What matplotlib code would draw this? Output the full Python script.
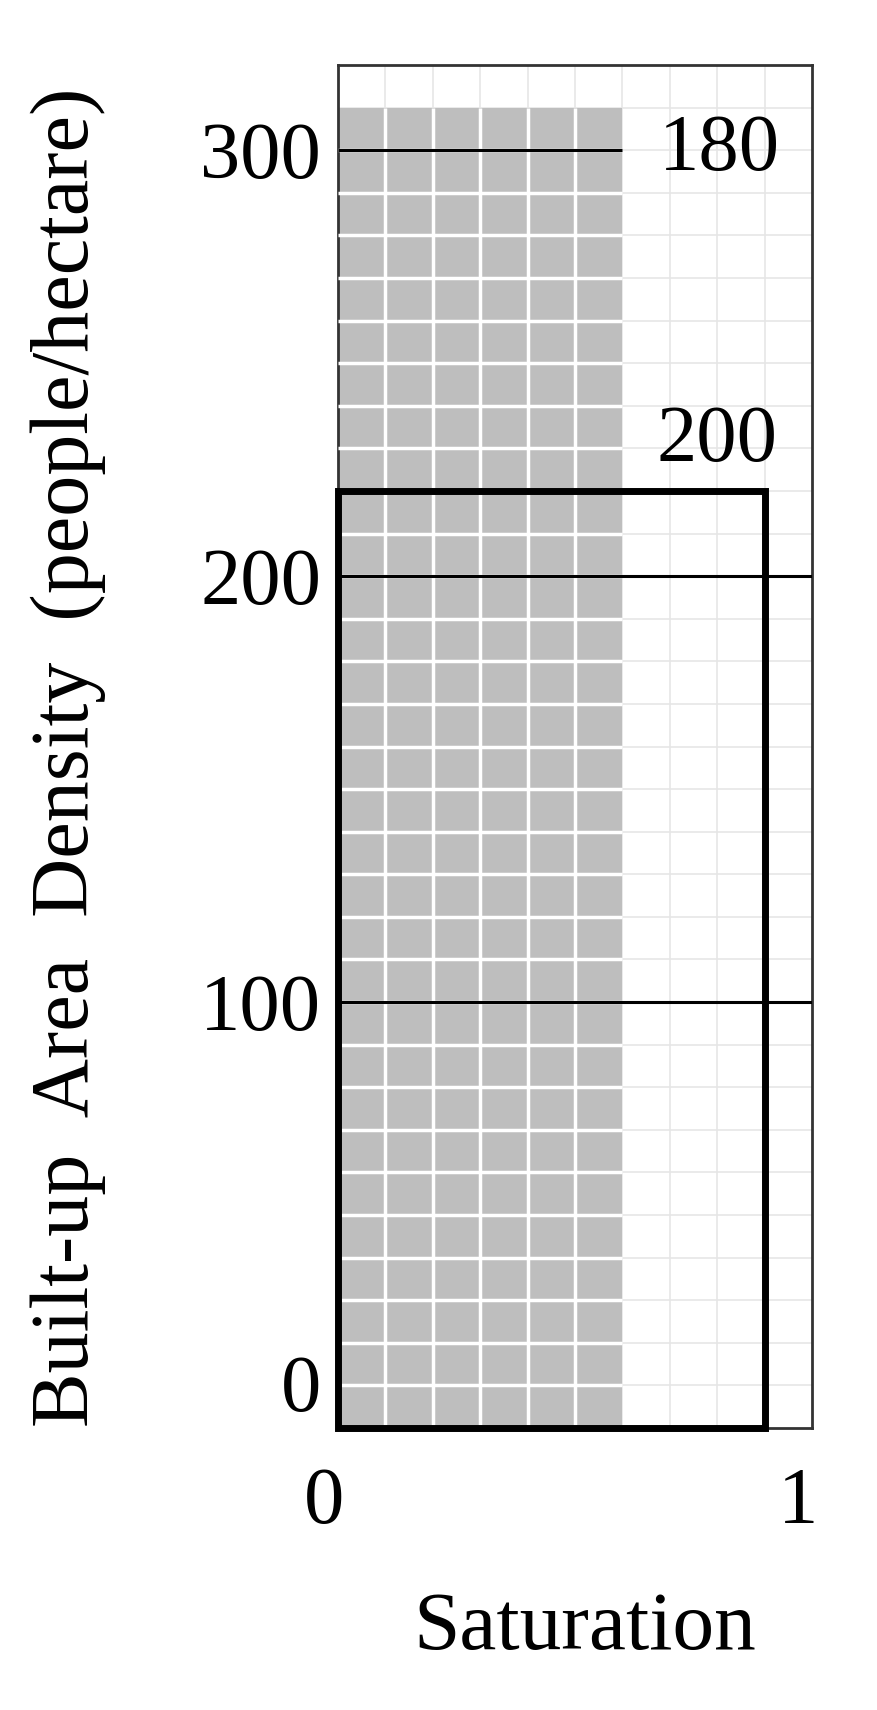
import numpy as np
import matplotlib
matplotlib.use('Agg')
import matplotlib.pyplot as plt
from matplotlib.patches import Rectangle
from matplotlib.transforms import ScaledTranslation

plt.rcParams['font.family'] = ['Liberation Serif', 'DejaVu Serif']

# values
x_limits = [0, 1]
y_limits = [0, 320]
shaded_saturation = 0.6      # gray block width
shaded_density = 310         # gray block height
box_saturation = 0.9         # thick outlined box
box_density = 220
line_180_density = 300       # short line labelled 180
full_lines = [100, 200]      # lines across the whole panel
label_180 = '180'
label_200 = '200'
x_ticks = [0, 1]
y_ticks = [0, 100, 200, 300]

fig = plt.figure(figsize=(8.77, 17.10), dpi=100)
ax = fig.add_axes([0.3854, 0.1649, 0.5405, 0.7971])
ax.set_xlim(*x_limits)
ax.set_ylim(*y_limits)

# light background grid
grid_x = np.arange(0.1, 1.0, 0.1)
grid_y = np.arange(10, 320, 10)
for gx in grid_x:
    ax.axvline(gx, color='#e6e6e6', lw=1.2, zorder=1)
for gy in grid_y:
    ax.axhline(gy, color='#e6e6e6', lw=1.2, zorder=1)

# gray block with white grid on top
ax.bar(0, shaded_density, width=shaded_saturation, align='edge', color='#bebebe', zorder=2)
ax.vlines(grid_x[grid_x < shaded_saturation - 1e-9], 0, shaded_density, color='white', lw=2.5, zorder=3)
ax.hlines(grid_y[grid_y < shaded_density], 0, shaded_saturation, color='white', lw=2.5, zorder=3)

# reference lines
ax.hlines(line_180_density, 0, shaded_saturation, color='black', lw=2.2, zorder=4)
ax.hlines(full_lines, 0, 1, color='black', lw=2.2, zorder=4)

ax.add_patch(Rectangle((0, 0), box_saturation, box_density, fill=False,
                       edgecolor='black', lw=5, zorder=5, clip_on=False))

ax.text(0.805, line_180_density, label_180, fontsize=58, ha='center', va='center', zorder=6)
ax.text(0.80, box_density + 3, label_200, fontsize=58, ha='center', va='bottom', zorder=6)

for s in ax.spines.values():
    s.set_color('#333333')
    s.set_linewidth(2)

ax.set_xticks(x_ticks)
ax.set_xticklabels([str(t) for t in x_ticks], fontsize=58)
ax.set_yticks(y_ticks)
ax.set_yticklabels([str(t) for t in y_ticks], fontsize=58)
ax.tick_params(axis='y', length=0, pad=12)
ax.tick_params(axis='x', length=0, pad=28)
ax.get_yticklabels()[0].set_verticalalignment('bottom')
shift = ScaledTranslation(-0.14, 0, fig.dpi_scale_trans)
for lab in ax.get_xticklabels():
    lab.set_transform(lab.get_transform() + shift)

ax.set_xlabel('Saturation', fontsize=60, labelpad=48)
ax.xaxis.set_label_coords(0.52, -0.12)
ax.set_ylabel('Built-up  Area  Density  (people/hectare)', fontsize=59, labelpad=66)
ax.yaxis.set_label_coords(-0.49, 0.492)

fig.savefig('out.png', dpi=100)
